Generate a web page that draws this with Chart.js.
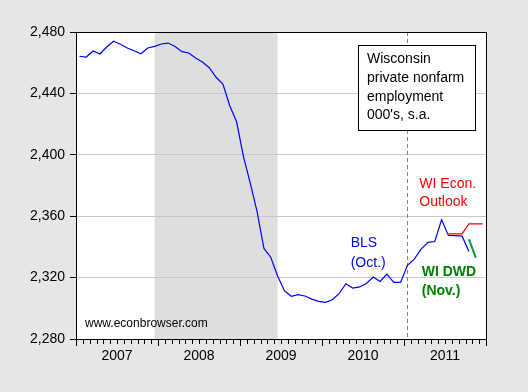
<!DOCTYPE html>
<html><head><meta charset="utf-8">
<script src="https://cdn.jsdelivr.net/npm/chart.js@4.4.0/dist/chart.umd.min.js"></script>
<style>html,body{margin:0;padding:0;background:#e6e6e6;}#wrap{width:528px;height:392px;}</style>
</head><body><div id="wrap"><canvas id="c" width="528" height="392"></canvas></div>
<script>
// Tick labels
const years = ['2007', '2008', '2009', '2010', '2011'];
const yTicks = [2280, 2320, 2360, 2400, 2440, 2480];
// BLS, Wisconsin private nonfarm employment (000's, s.a.), Jan 2007 - Oct 2011
const blsValues = [
  2464.2, 2463.7, 2467.6, 2465.7, 2470.2, 2474.0, 2472.0, 2469.6, 2467.8, 2465.8, 2469.6, 2470.6,
  2472.2, 2472.8, 2470.5, 2467.2, 2466.3, 2463.0, 2460.5, 2456.7, 2450.5, 2446.0, 2432.0, 2421.5,
  2399.0, 2381.5, 2363.0, 2339.0, 2333.3, 2321.0, 2311.5, 2307.8, 2308.9, 2308.0, 2306.0, 2304.5,
  2303.9, 2305.6, 2309.5, 2316.0, 2313.2, 2313.9, 2316.2, 2320.4, 2317.5, 2322.3, 2316.9, 2316.9,
  2328.0, 2332.0, 2338.5, 2343.0, 2343.5, 2357.7, 2347.5, 2347.3, 2347.0, 2337.0
];
// WI Econ. Outlook, Jul 2011 - Dec 2011
const wiEconStart = 54;
const wiEconValues = [2348.5, 2348.5, 2348.5, 2355.0, 2355.0, 2355.0];
// WI DWD (Nov.), Oct 2011 - Nov 2011
const wiDwdStart = 57;
const wiDwdValues = [2345.0, 2333.0];
// Recession (Dec 2007 - Jun 2009) and marker month (Jan 2011), as month indices
const recessionMonths = [11, 29];
const markerMonth = 48;
const monthCount = 60;

const pts = (arr, start) => arr.map((v, i) => ({ x: start + i + 0.5, y: v }));
const FONT = '"Liberation Sans", Arial, sans-serif';

const decor = {
  id: 'decor',
  beforeDraw(chart) {
    const { ctx, chartArea: a, scales: { x } } = chart;
    ctx.save();
    ctx.fillStyle = '#e6e6e6';
    ctx.fillRect(0, 0, chart.width, chart.height);
    ctx.fillStyle = '#ffffff';
    ctx.fillRect(a.left, a.top, a.right - a.left, a.bottom - a.top);
    const s0 = x.getPixelForValue(recessionMonths[0] + 0.5);
    const s1 = x.getPixelForValue(recessionMonths[1] + 0.5);
    ctx.fillStyle = '#dedede';
    ctx.fillRect(s0, a.top, s1 - s0, a.bottom - a.top);
    ctx.restore();
  },
  beforeDatasetsDraw(chart) {
    const { ctx, chartArea: a, scales: { x } } = chart;
    const px = Math.round(x.getPixelForValue(markerMonth + 0.5)) + 0.5;
    ctx.save();
    ctx.strokeStyle = '#808080';
    ctx.lineWidth = 1;
    ctx.setLineDash([4, 3]);
    ctx.beginPath();
    ctx.moveTo(px, a.top);
    ctx.lineTo(px, a.bottom);
    ctx.stroke();
    ctx.restore();
  },
  afterDraw(chart) {
    const { ctx, chartArea: a, scales: { x, y } } = chart;
    ctx.save();
    // frame
    ctx.strokeStyle = '#000';
    ctx.lineWidth = 1;
    ctx.strokeRect(Math.round(a.left) + 0.5, Math.round(a.top) + 0.5,
      Math.round(a.right - a.left), Math.round(a.bottom - a.top));
    // month ticks
    ctx.beginPath();
    for (let m = 0; m <= monthCount; m++) {
      const px = Math.round(x.getPixelForValue(m)) + 0.5;
      const len = m % 12 === 0 ? 7 : 5;
      ctx.moveTo(px, Math.round(a.bottom));
      ctx.lineTo(px, Math.round(a.bottom) + len);
    }
    ctx.stroke();
    // annotations
    ctx.textBaseline = 'middle';
    ctx.textAlign = 'left';
    ctx.font = '14px ' + FONT;
    ctx.fillStyle = '#0000ff';
    ctx.fillText('BLS', x.getPixelForValue(40.2), y.getPixelForValue(2342.3));
    ctx.fillText('(Oct.)', x.getPixelForValue(40.2), y.getPixelForValue(2329.7));
    ctx.fillStyle = '#ff0000';
    ctx.fillText('WI Econ.', x.getPixelForValue(50.24), y.getPixelForValue(2381.0));
    ctx.fillText('Outlook', x.getPixelForValue(50.24), y.getPixelForValue(2369.4));
    ctx.fillStyle = '#008000';
    ctx.font = 'bold 14px ' + FONT;
    ctx.fillText('WI DWD', x.getPixelForValue(50.6), y.getPixelForValue(2323.4));
    ctx.fillText('(Nov.)', x.getPixelForValue(50.6), y.getPixelForValue(2311.0));
    ctx.fillStyle = '#000';
    ctx.font = '12px ' + FONT;
    ctx.fillText('www.econbrowser.com', x.getPixelForValue(1.32), y.getPixelForValue(2290.0));
    // legend box
    const bw = 117, bh = 85;
    const bx = Math.round(a.right) - 11 - bw, by = Math.round(a.top) + 13;
    ctx.fillStyle = '#fff';
    ctx.fillRect(bx, by, bw, bh);
    ctx.strokeRect(bx + 0.5, by + 0.5, bw, bh);
    ctx.fillStyle = '#000';
    ctx.font = '14px ' + FONT;
    const lines = ['Wisconsin', 'private nonfarm', 'employment', "000's, s.a."];
    lines.forEach((t, i) => ctx.fillText(t, bx + 9, by + 14.5 + i * 18.7));
    ctx.restore();
  }
};

new Chart(document.getElementById('c'), {
  type: 'line',
  data: {
    datasets: [
      { data: pts(blsValues, 0), borderColor: '#0000ff', borderWidth: 1.2, pointRadius: 0, tension: 0 },
      { data: pts(wiEconValues, wiEconStart), borderColor: '#ff0000', borderWidth: 1.2, pointRadius: 0, tension: 0 },
      { data: pts(wiDwdValues, wiDwdStart), borderColor: '#009940', borderWidth: 2, pointRadius: 0, tension: 0 }
    ]
  },
  options: {
    responsive: false,
    animation: false,
    devicePixelRatio: 1,
    layout: { padding: { top: 32, right: 42, left: 0, bottom: 0 } },
    plugins: { legend: { display: false }, tooltip: { enabled: false } },
    scales: {
      x: {
        type: 'linear', min: 0, max: monthCount,
        afterBuildTicks: s => { s.ticks = years.map((_, i) => ({ value: i * 12 + 6 })); },
        afterFit: s => { s.height = 53; },
        ticks: {
          callback: v => years[Math.round((v - 6) / 12)],
          font: { size: 14, family: FONT }, color: '#000', padding: 9,
          maxRotation: 0, autoSkip: false
        },
        grid: { display: false, drawTicks: false },
        border: { display: false }
      },
      y: {
        min: 2280, max: 2480,
        afterBuildTicks: s => { s.ticks = yTicks.map(v => ({ value: v })); },
        afterFit: s => { s.width = 76; },
        ticks: {
          callback: v => v.toLocaleString('en-US'),
          font: { size: 14, family: FONT }, color: '#000', padding: 5
        },
        grid: { color: '#c8c8c8', tickColor: '#000', tickLength: 6, drawTicks: true },
        border: { display: false }
      }
    }
  },
  plugins: [decor]
});
</script></body></html>
